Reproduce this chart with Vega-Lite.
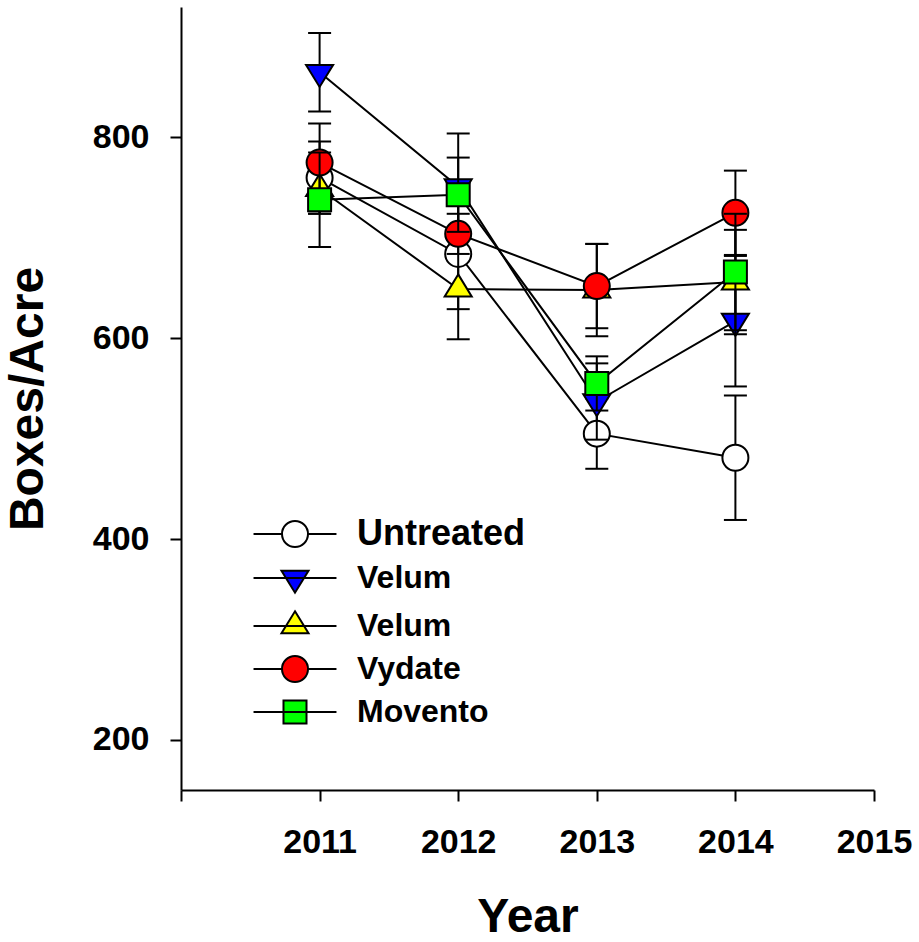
{
  "$schema": "https://vega.github.io/schema/vega-lite/v6.json",
  "width": 693,
  "height": 783,
  "autosize": {"type": "none"},
  "padding": {"left": 181, "top": 7, "right": 45, "bottom": 152},
  "background": "white",
  "config": {
    "view": {"stroke": null},
    "axis": {
      "domainColor": "black", "domainWidth": 2,
      "tickColor": "black", "tickWidth": 2, "tickSize": 11,
      "grid": false,
      "labelFont": "Liberation Sans", "labelFontWeight": "bold", "labelFontSize": 34, "labelColor": "black",
      "titleFont": "Liberation Sans", "titleFontWeight": "bold", "titleFontSize": 48, "titleColor": "black"
    }
  },
  "data": {
    "values": [
      {"series": "Untreated", "year": 2011, "value": 760, "err": 36},
      {"series": "Untreated", "year": 2012, "value": 684, "err": 55},
      {"series": "Untreated", "year": 2013, "value": 505, "err": 35},
      {"series": "Untreated", "year": 2014, "value": 481, "err": 62},
      {"series": "Velum A", "year": 2011, "value": 865, "err": 39},
      {"series": "Velum A", "year": 2012, "value": 751, "err": 53},
      {"series": "Velum A", "year": 2013, "value": 537, "err": 38},
      {"series": "Velum A", "year": 2014, "value": 617, "err": 65},
      {"series": "Velum B", "year": 2011, "value": 749, "err": 25},
      {"series": "Velum B", "year": 2012, "value": 649, "err": 50},
      {"series": "Velum B", "year": 2013, "value": 648, "err": 46},
      {"series": "Velum B", "year": 2014, "value": 656, "err": 52},
      {"series": "Vydate", "year": 2011, "value": 775, "err": 39},
      {"series": "Vydate", "year": 2012, "value": 704, "err": 20},
      {"series": "Vydate", "year": 2013, "value": 652, "err": 42},
      {"series": "Vydate", "year": 2014, "value": 725, "err": 42},
      {"series": "Movento", "year": 2011, "value": 738, "err": 47},
      {"series": "Movento", "year": 2012, "value": 743, "err": 37},
      {"series": "Movento", "year": 2013, "value": 555, "err": 27},
      {"series": "Movento", "year": 2014, "value": 666, "err": 58}
    ]
  },
  "encoding": {
    "x": {
      "field": "year", "type": "quantitative",
      "scale": {"domain": [2010, 2015], "nice": false, "zero": false},
      "axis": {
        "values": [2010, 2011, 2012, 2013, 2014, 2015], "format": "d",
        "labelExpr": "datum.value == 2010 ? '' : datum.label",
        "labelFlush": false, "labelOverlap": false,
        "labelPadding": 24, "title": "Year", "titlePadding": 34
      }
    },
    "y": {
      "field": "value", "type": "quantitative",
      "scale": {"domain": [150, 930], "nice": false, "zero": false},
      "axis": {
        "values": [200, 400, 600, 800],
        "labelPadding": 21, "title": "Boxes/Acre", "titlePadding": 40
      }
    }
  },
  "layer": [
    {
      "transform": [{"filter": "datum.series == 'Untreated'"}],
      "layer": [
        {"mark": {"type": "errorbar", "size": 23, "thickness": 2, "color": "black", "opacity": 1, "rule": {"color": "black", "opacity": 1, "strokeWidth": 2}, "ticks": {"color": "black", "opacity": 1}}, "encoding": {"yError": {"field": "err"}}},
        {"mark": {"type": "line", "color": "black", "strokeWidth": 2}},
        {"mark": {"type": "point", "shape": "circle", "size": 676, "filled": true, "fill": "#ffffff", "stroke": "black", "strokeWidth": 2, "opacity": 1}}
      ]
    },
    {
      "transform": [{"filter": "datum.series == 'Velum A'"}],
      "layer": [
        {"mark": {"type": "errorbar", "size": 23, "thickness": 2, "color": "black", "opacity": 1, "rule": {"color": "black", "opacity": 1, "strokeWidth": 2}, "ticks": {"color": "black", "opacity": 1}}, "encoding": {"yError": {"field": "err"}}},
        {"mark": {"type": "line", "color": "black", "strokeWidth": 2}},
        {"mark": {"type": "point", "shape": "M-1.04,-0.565H1.04L0,1.13Z", "size": 676, "filled": true, "fill": "#0000ff", "stroke": "black", "strokeWidth": 2, "opacity": 1}}
      ]
    },
    {
      "transform": [{"filter": "datum.series == 'Velum B'"}],
      "layer": [
        {"mark": {"type": "errorbar", "size": 23, "thickness": 2, "color": "black", "opacity": 1, "rule": {"color": "black", "opacity": 1, "strokeWidth": 2}, "ticks": {"color": "black", "opacity": 1}}, "encoding": {"yError": {"field": "err"}}},
        {"mark": {"type": "line", "color": "black", "strokeWidth": 2}},
        {"mark": {"type": "point", "shape": "M0,-1.13L1.04,0.565H-1.04Z", "size": 676, "filled": true, "fill": "#ffff00", "stroke": "black", "strokeWidth": 2, "opacity": 1}}
      ]
    },
    {
      "transform": [{"filter": "datum.series == 'Vydate'"}],
      "layer": [
        {"mark": {"type": "errorbar", "size": 23, "thickness": 2, "color": "black", "opacity": 1, "rule": {"color": "black", "opacity": 1, "strokeWidth": 2}, "ticks": {"color": "black", "opacity": 1}}, "encoding": {"yError": {"field": "err"}}},
        {"mark": {"type": "line", "color": "black", "strokeWidth": 2}},
        {"mark": {"type": "point", "shape": "circle", "size": 676, "filled": true, "fill": "#ff0000", "stroke": "black", "strokeWidth": 2, "opacity": 1}}
      ]
    },
    {
      "transform": [{"filter": "datum.series == 'Movento'"}],
      "layer": [
        {"mark": {"type": "errorbar", "size": 23, "thickness": 2, "color": "black", "opacity": 1, "rule": {"color": "black", "opacity": 1, "strokeWidth": 2}, "ticks": {"color": "black", "opacity": 1}}, "encoding": {"yError": {"field": "err"}}},
        {"mark": {"type": "line", "color": "black", "strokeWidth": 2}},
        {"mark": {"type": "point", "shape": "M-0.885,-0.885H0.885V0.885H-0.885Z", "size": 676, "filled": true, "fill": "#00ff00", "stroke": "black", "strokeWidth": 2, "opacity": 1}}
      ]
    },
    {
      "transform": [{"filter": "datum.year < 0"}],
      "mark": {"type": "point", "filled": true, "size": 676, "stroke": "black", "strokeWidth": 2, "opacity": 1},
      "encoding": {
        "shape": {
          "field": "series", "type": "nominal",
          "scale": {
            "domain": ["Untreated", "Velum A", "Velum B", "Vydate", "Movento"],
            "range": [
              "M-3.19,0H-1M1,0H3.19M1,0A1,1,0,1,1,-1,0A1,1,0,1,1,1,0Z",
              "M-3.19,0H3.19M-1.04,-0.565H1.04L0,1.13Z",
              "M-3.19,0H3.19M0,-1.13L1.04,0.565H-1.04Z",
              "M-3.19,0H-1M1,0H3.19M1,0A1,1,0,1,1,-1,0A1,1,0,1,1,1,0Z",
              "M-3.19,0H3.19M-0.885,-0.885H0.885V0.885H-0.885Z"
            ]
          },
          "legend": {
            "orient": "none", "legendX": 98, "legendY": 511, "title": null, "direction": "vertical",
            "padding": 0, "symbolSize": 676, "symbolStrokeWidth": 2, "symbolStrokeColor": "black", "symbolOpacity": 1,
            "labelFont": "Liberation Sans", "labelFontWeight": "bold", "labelFontSize": 32, "labelColor": "black",
            "labelOffset": 46, "rowPadding": 10, "labelLimit": 300,
            "labelExpr": "indexof(datum.label, 'Velum') == 0 ? 'Velum' : datum.label",
            "encode": {"labels": {"update": {"fontSize": {"signal": "datum.value == 'Untreated' ? 36 : 32"}}}}
          }
        },
        "fill": {
          "field": "series", "type": "nominal",
          "scale": {
            "domain": ["Untreated", "Velum A", "Velum B", "Vydate", "Movento"],
            "range": ["#ffffff", "#0000ff", "#ffff00", "#ff0000", "#00ff00"]
          },
          "legend": {
            "orient": "none", "legendX": 98, "legendY": 511, "title": null, "direction": "vertical",
            "padding": 0, "symbolSize": 676, "symbolStrokeWidth": 2, "symbolStrokeColor": "black", "symbolOpacity": 1,
            "labelFont": "Liberation Sans", "labelFontWeight": "bold", "labelFontSize": 32, "labelColor": "black",
            "labelOffset": 46, "rowPadding": 10, "labelLimit": 300,
            "labelExpr": "indexof(datum.label, 'Velum') == 0 ? 'Velum' : datum.label",
            "encode": {"labels": {"update": {"fontSize": {"signal": "datum.value == 'Untreated' ? 36 : 32"}}}}
          }
        }
      }
    }
  ]
}
